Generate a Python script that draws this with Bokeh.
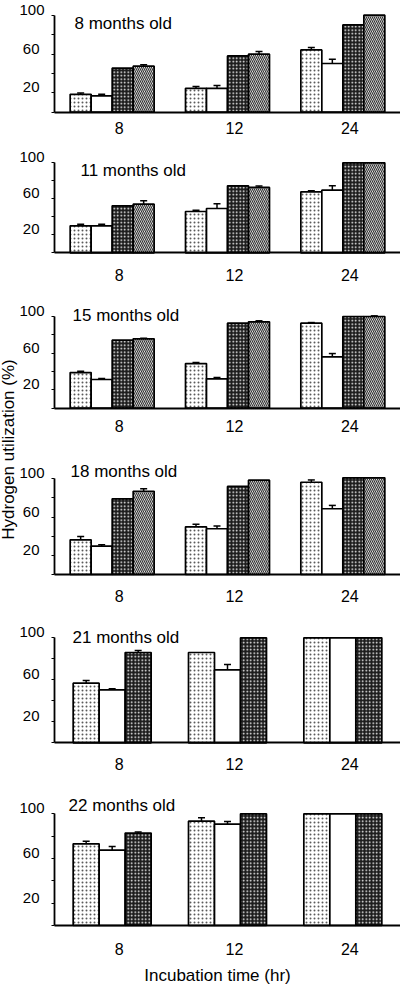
import math
from bokeh.plotting import figure
from bokeh.models import (ColumnDataSource, Range1d, LinearAxis, FixedTicker,
                          Whisker, TeeHead, Label)
from bokeh.transform import dodge
from bokeh.embed import file_html
from bokeh.resources import INLINE

# ---------------- data ----------------
times = ["8", "12", "24"]
panel_titles = ["8 months old", "11 months old", "15 months old",
                "18 months old", "21 months old", "22 months old"]

# each list: one row per treatment group, values at 8, 12, 24 hr
m8_means = [[18.4, 24.6, 64.2], [16.8, 24.6, 50.2], [45.4, 58.0, 90.0], [47.5, 59.8, 100.0]]
m8_errs = [[1.4, 2.0, 2.4], [1.7, 3.0, 4.4], [0, 0, 0], [1.3, 2.7, 0]]

m11_means = [[30.0, 45.9, 67.8], [30.0, 49.2, 69.6], [52.2, 74.4, 100.0], [54.0, 72.6, 100.0]]
m11_errs = [[1.8, 1.5, 1.1], [1.8, 5.2, 4.8], [0, 0, 0], [3.7, 1.5, 0]]

m15_means = [[38.9, 48.7, 92.7], [31.3, 32.0, 56.0], [74.2, 92.7, 100.0], [75.6, 94.2, 100.0]]
m15_errs = [[1.5, 1.1, 0.7], [1.1, 1.5, 3.6], [0, 0, 0], [0.7, 1.1, 0.7]]

m18_means = [[36.2, 49.8, 96.4], [29.6, 47.8, 68.7], [79.1, 92.0, 101.0], [87.0, 98.6, 101.0]]
m18_errs = [[3.5, 2.8, 2.4], [1.4, 2.8, 3.5], [0, 0, 0], [2.5, 0, 0]]

m21_means = [[56.8, 86.0, 100.0], [50.5, 69.5, 100.0], [86.0, 100.0, 100.0]]
m21_errs = [[2.5, 0, 0], [1.0, 5.1, 0], [1.9, 0, 0]]

m22_means = [[73.1, 93.4, 100.0], [67.4, 90.7, 100.0], [82.7, 100.0, 100.0]]
m22_errs = [[2.4, 3.0, 0], [3.3, 2.4, 0], [0.9, 0, 0]]

y_tick_values = [0, 20, 40, 60, 80, 100]
y_label_wide = [100]
y_label_narrow = [20, 60]
y_title = "Hydrogen utilization (%)"
x_title = "Incubation time (hr)"

all_means = [m8_means, m11_means, m15_means, m18_means, m21_means, m22_means]
all_errs = [m8_errs, m11_errs, m15_errs, m18_errs, m21_errs, m22_errs]

# category slots: category i occupies [i, i+1] on the x scale
x_centers = [i + 0.5 for i in range(len(times))]
x_label_map = {c: t for c, t in zip(x_centers, times)}

# ---------------- layout (pixels; the page has no margin) ----------------
FONT = "Liberation Sans"
W, H = 400, 984
LEFT = 54                      # x pixel of the y axes
PX_PER_CAT = (W - LEFT) / 3.0
X0 = -LEFT / PX_PER_CAT

tick100_px = [14.7, 162.3, 316.0, 478.3, 637.3, 813.3]
base_px = [111.7, 252.3, 407.7, 574.0, 742.3, 925.0]
title_px = [23, 170, 315, 471, 637, 805]
title_x_px = [74, 80, 72, 70, 72, 68]
xlab_standoff = [10, 16, 12, 15, 15, 17]
YLAB_LIFT = 5.5                # tick labels sit just above their tick
XLAB_SHIFT = 7                 # x tick labels sit slightly right of group centre

styles = [
    dict(fill_color="white", hatch_pattern="dot", hatch_color="#5a5a5a", hatch_scale=4, hatch_weight=1),
    dict(fill_color="white"),
    dict(fill_color="#1c1c1c", hatch_pattern="dot", hatch_color="white", hatch_scale=3.5, hatch_weight=1),
    dict(fill_color="white", hatch_pattern="left_diagonal_line", hatch_color="#333333", hatch_scale=4, hatch_weight=1.2),
]

p = figure(width=W, height=H, x_range=Range1d(X0, len(times)),
           y_range=Range1d(0, H),
           x_axis_location=None, y_axis_location=None,
           toolbar_location=None, output_backend="svg",
           min_border_left=0, min_border_right=0, min_border_top=0,
           min_border_bottom=0, outline_line_color=None)
for g in p.grid:
    g.visible = False

dx = XLAB_SHIFT / PX_PER_CAT
p.extra_x_ranges = {"xlab": Range1d(X0 - dx, len(times) - dx)}

extra = {}
for k in range(6):
    b = H - base_px[k]
    t = H - tick100_px[k]
    s = (t - b) / 100.0
    extra[f"p{k}"] = Range1d(-b / s, (H - b) / s)
    d = YLAB_LIFT / s
    extra[f"p{k}lab"] = Range1d(-b / s - d, (H - b) / s - d)
p.extra_y_ranges = extra

label_style = dict(major_label_text_font=FONT, major_label_text_color="black",
                   axis_line_color=None, major_tick_line_color=None,
                   minor_tick_line_color=None, major_tick_out=0, major_tick_in=0,
                   minor_tick_out=0, minor_tick_in=0)

for k in range(6):
    name = f"p{k}"
    # x axis line
    p.add_layout(LinearAxis(y_range_name=name, fixed_location=0, bounds=(0, len(times)),
                            ticker=FixedTicker(ticks=[], minor_ticks=[]),
                            major_tick_out=0, major_tick_in=0, minor_tick_out=0, minor_tick_in=0,
                            axis_line_width=1.8, axis_line_color="black"), "below")
    # x tick labels
    p.add_layout(LinearAxis(x_range_name="xlab", y_range_name=name, fixed_location=0,
                            ticker=FixedTicker(ticks=x_centers, minor_ticks=[]),
                            major_label_overrides=x_label_map,
                            major_label_text_font_size="16px",
                            major_label_standoff=xlab_standoff[k], **label_style), "below")
    # y axis line and ticks
    p.add_layout(LinearAxis(y_range_name=name, fixed_location=0, bounds=(0, 100),
                            ticker=FixedTicker(ticks=[], minor_ticks=y_tick_values),
                            minor_tick_out=3, minor_tick_in=0, minor_tick_line_width=1,
                            minor_tick_line_color="black",
                            axis_line_width=1.8, axis_line_color="black"), "left")
    # y tick labels
    p.add_layout(LinearAxis(y_range_name=f"p{k}lab", fixed_location=0,
                            ticker=FixedTicker(ticks=y_label_wide, minor_ticks=[]),
                            major_label_text_font_size="15px",
                            major_label_standoff=10, **label_style), "left")
    p.add_layout(LinearAxis(y_range_name=f"p{k}lab", fixed_location=0,
                            ticker=FixedTicker(ticks=y_label_narrow, minor_ticks=[]),
                            major_label_text_font_size="15px",
                            major_label_standoff=15, **label_style), "left")

    means = all_means[k]
    errs = all_errs[k]
    n = len(means)
    bw_px = 21 if n == 4 else 26
    bw = bw_px / PX_PER_CAT
    for i in range(n):
        off = (i - (n - 1) / 2.0) * bw
        src = ColumnDataSource(dict(xc=x_centers, val=means[i]))
        p.vbar(x=dodge("xc", off), top="val", bottom=0, width=bw,
               source=src, y_range_name=name, line_color="black", line_width=1.7,
               **styles[i])
        wx = [c for c, e in zip(x_centers, errs[i]) if e > 0]
        wl = [v for v, e in zip(means[i], errs[i]) if e > 0]
        wu = [v + e for v, e in zip(means[i], errs[i]) if e > 0]
        if wx:
            wsrc = ColumnDataSource(dict(xc=wx, lower=wl, upper=wu))
            p.add_layout(Whisker(source=wsrc, base=dodge("xc", off),
                                 lower="lower", upper="upper", y_range_name=name,
                                 line_color="black", line_width=1.5,
                                 upper_head=TeeHead(size=7, line_width=1.5, line_color="black"),
                                 lower_head=None))

    ty = (base_px[k] - title_px[k]) / (base_px[k] - tick100_px[k]) * 100
    tx = (title_x_px[k] - LEFT) / PX_PER_CAT
    p.add_layout(Label(x=tx, y=ty, y_range_name=name, text=panel_titles[k],
                       text_font=FONT, text_font_size="17px", text_color="black",
                       text_baseline="alphabetic", text_align="left"))

# y-axis title spanning panels
p.add_layout(Label(x=(8 - LEFT) / PX_PER_CAT, y=H - 449, text=y_title, angle=math.pi / 2,
                   text_font=FONT, text_font_size="17px", text_color="black",
                   text_align="center", text_baseline="middle"))
# x-axis title under the last panel
p.add_layout(Label(x=(217 - LEFT) / PX_PER_CAT, y=H - 975, text=x_title,
                   text_font=FONT, text_font_size="17px", text_color="black",
                   text_align="center", text_baseline="middle"))

open("out.html", "w").write(file_html(p, INLINE))
